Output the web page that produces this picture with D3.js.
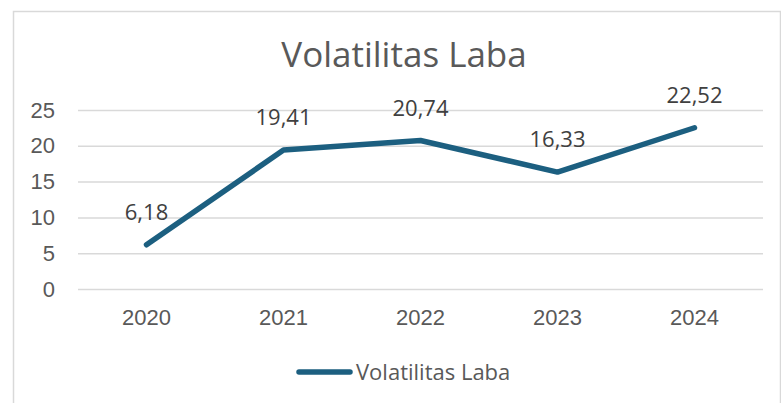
<!DOCTYPE html>
<html>
<head>
<meta charset="utf-8">
<script src="https://cdn.jsdelivr.net/npm/d3@7"></script>
<style>
  html, body { margin: 0; padding: 0; background: #fff; }
  svg { display: block; font-family: "Open Sans", "Liberation Sans", sans-serif; }
</style>
</head>
<body>
<svg id="chart" width="781" height="403"></svg>
<script>
// ── Data ──
const years = ["2020", "2021", "2022", "2023", "2024"];
const volatility = [6.18, 19.41, 20.74, 16.33, 22.52];
const yTicks = [0, 5, 10, 15, 20, 25];
const seriesName = "Volatilitas Laba";

const W = 781, H = 403;
const lineCol = "#1c5f80";
const textCol = "#595959";
const gridCol = "#d9d9d9";
const plot = { left: 78, right: 763, top: 110, bottom: 289 };
const fs = 22;

const svg = d3.select("#chart");

// chart frame (bottom edge runs off the picture)
svg.append("rect")
  .attr("x", 13.5).attr("y", 11.5).attr("width", 767).attr("height", 420)
  .attr("fill", "#fff").attr("stroke", gridCol).attr("stroke-width", 1.5);

// title
svg.append("text")
  .attr("x", 404).attr("y", 67)
  .attr("text-anchor", "middle")
  .style("font-size", "35px").style("fill", textCol)
  .text(seriesName);

const x = d3.scaleBand().domain(years).range([plot.left, plot.right]);
const y = d3.scaleLinear().domain([0, 25]).range([plot.bottom, plot.top]);

// y axis: gridlines + labels
const yAxis = svg.append("g")
  .attr("transform", `translate(${plot.left},0)`)
  .call(d3.axisLeft(y).tickValues(yTicks).tickSize(-(plot.right - plot.left)).tickPadding(23));
yAxis.select(".domain").remove();
yAxis.selectAll(".tick line").attr("stroke", gridCol).attr("stroke-width", 1.5);
yAxis.selectAll(".tick text")
  .style("font-size", fs + "px").style("font-family", null).attr("fill", textCol);

// x axis labels
const xAxis = svg.append("g")
  .attr("transform", `translate(0,${plot.bottom})`)
  .call(d3.axisBottom(x).tickSize(0).tickPadding(20));
xAxis.select(".domain").remove();
xAxis.selectAll(".tick text")
  .style("font-size", fs + "px").style("font-family", null).attr("fill", textCol);

// line
const line = d3.line()
  .x((d, i) => x(years[i]) + x.bandwidth() / 2)
  .y(d => y(d));
svg.append("path")
  .datum(volatility)
  .attr("d", line)
  .attr("fill", "none")
  .attr("stroke", lineCol)
  .attr("stroke-width", 5.5)
  .attr("stroke-linecap", "round")
  .attr("stroke-linejoin", "round");

// data labels
svg.append("g").selectAll("text")
  .data(volatility)
  .join("text")
  .attr("x", (d, i) => x(years[i]) + x.bandwidth() / 2)
  .attr("y", d => y(d) - 25)
  .attr("text-anchor", "middle")
  .style("font-size", fs + "px").style("fill", "#404040")
  .text(d => d3.format(".2f")(d).replace(".", ","));

// legend
const lg = svg.append("g").attr("transform", "translate(297,372)");
lg.append("line")
  .attr("x1", 2).attr("x2", 53).attr("y1", 0).attr("y2", 0)
  .attr("stroke", lineCol).attr("stroke-width", 5.5).attr("stroke-linecap", "round");
lg.append("text")
  .attr("x", 59).attr("y", 8)
  .style("font-size", fs + "px").style("fill", textCol)
  .text(seriesName);
</script>
</body>
</html>
